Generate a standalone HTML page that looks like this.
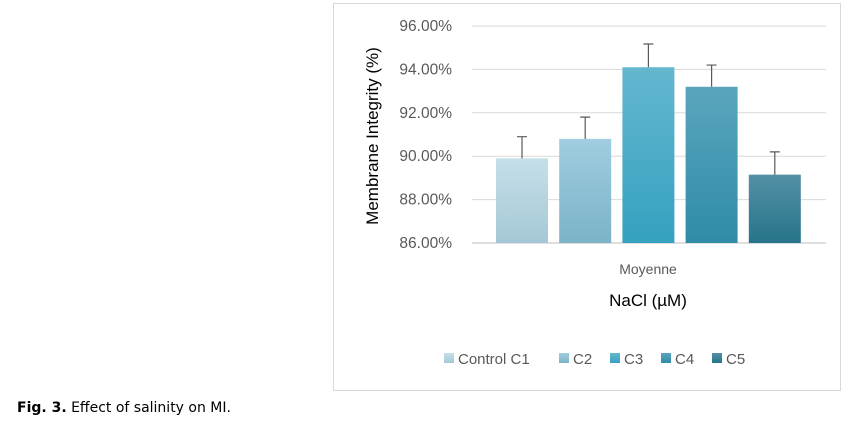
<!DOCTYPE html>
<html><head><meta charset="utf-8"><style>
body{margin:0;width:857px;height:429px;background:#fff;overflow:hidden;font-family:"Liberation Sans",sans-serif}
#caption{position:absolute;left:17px;top:400px;font-family:"DejaVu Sans",sans-serif;font-size:14px;color:#000}
</style></head><body>
<svg width="857" height="429" style="position:absolute;left:0;top:0">
<defs>
<linearGradient id="g0" x1="0" y1="0" x2="0" y2="1"><stop offset="0" stop-color="#c5dfe9"/><stop offset="1" stop-color="#a5c8d6"/></linearGradient>
<linearGradient id="g1" x1="0" y1="0" x2="0" y2="1"><stop offset="0" stop-color="#a0cddf"/><stop offset="1" stop-color="#7bb3c8"/></linearGradient>
<linearGradient id="g2" x1="0" y1="0" x2="0" y2="1"><stop offset="0" stop-color="#64b7cf"/><stop offset="1" stop-color="#35a1c0"/></linearGradient>
<linearGradient id="g3" x1="0" y1="0" x2="0" y2="1"><stop offset="0" stop-color="#5aa5bd"/><stop offset="1" stop-color="#2f8ca8"/></linearGradient>
<linearGradient id="g4" x1="0" y1="0" x2="0" y2="1"><stop offset="0" stop-color="#5390a5"/><stop offset="1" stop-color="#26748a"/></linearGradient>
</defs>
<rect x="333.5" y="3.5" width="507" height="387" fill="#fff" stroke="#d9d9d9"/>
<g id="grid"></g><g id="bars"></g><g id="legend"></g>
<text x="378" y="136" transform="rotate(-90 378 136)" text-anchor="middle" font-size="17" fill="#000">Membrane Integrity (%)</text>
<text x="648" y="274" text-anchor="middle" font-size="14" fill="#595959">Moyenne</text>
<text x="648" y="306" text-anchor="middle" font-size="17" fill="#000">NaCl (µM)</text>
</svg>
<div id="caption"><b>Fig. 3.</b> Effect of salinity on MI.</div>
<script>
const categories=["Control C1","C2","C3","C4","C5"];
const values=[89.9,90.8,94.1,93.2,89.15];
const errors=[1.0,1.0,1.07,1.0,1.05];
const ticks=[86,88,90,92,94,96];
const NS="http://www.w3.org/2000/svg";
const y=v=>243-(v-86)*21.7;
const x0=496,step=63.2,bw=52;
function mk(t,a,p){const e=document.createElementNS(NS,t);for(const k in a)e.setAttribute(k,a[k]);p.appendChild(e);return e;}
const grid=document.getElementById('grid');
ticks.forEach(t=>{
 const l=mk('line',{x1:472,x2:826,y1:y(t),y2:y(t),stroke:t===86?'#bfbfbf':'#d9d9d9','stroke-width':1},grid);
 
 
 const tx=mk('text',{x:452,y:y(t)+5,'text-anchor':'end','font-size':15.5,fill:'#595959'},grid);
 tx.textContent=t.toFixed(2)+'%';
 
 
});
const bars=document.getElementById('bars');
values.forEach((v,i)=>{
 const bx=x0+i*step;
 const r=mk('rect',{x:bx,y:y(v),width:bw,height:243-y(v),fill:'url(#g'+i+')'},bars);
 
 
 const cx=bx+bw/2;
 const e=mk('path',{d:`M${cx},${y(v)}V${y(v+errors[i])}M${cx-5},${y(v+errors[i])}H${cx+5}`,stroke:'#595959','stroke-width':1.2,fill:'none'},bars);
 
 
});
const leg=document.getElementById('legend');
const lx=[444,559,610,661,712];
categories.forEach((c,i)=>{
 const g=mk('g',{},leg);
 
 
 mk('rect',{x:lx[i],y:353,width:10,height:10,fill:'url(#g'+i+')'},g);
 const t=mk('text',{x:lx[i]+14,y:364,'font-size':15,fill:'#595959'},g);
 t.textContent=c;
});
</script>
</body></html>
